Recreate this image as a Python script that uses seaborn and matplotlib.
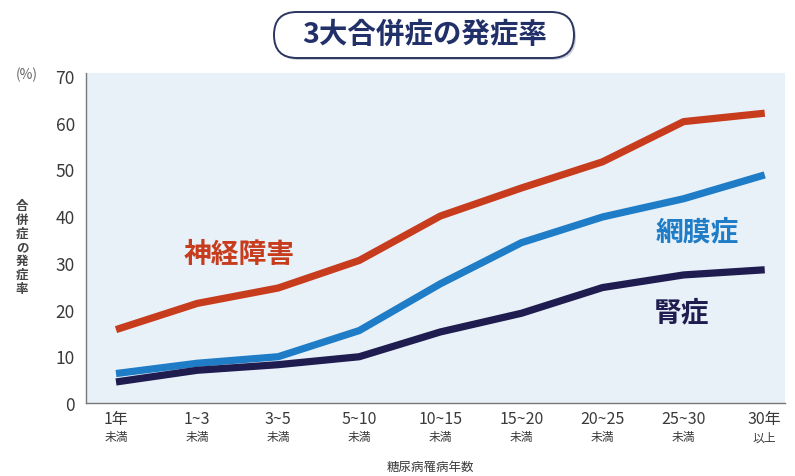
import matplotlib
matplotlib.use("Agg")
import matplotlib.pyplot as plt
import seaborn as sns
import pandas as pd
from matplotlib.patches import FancyBboxPatch
import matplotlib.transforms as mtransforms

categories = ["1年", "1~3", "3~5", "5~10", "10~15", "15~20", "20~25", "25~30", "30年"]
sublabels = ["未満", "未満", "未満", "未満", "未満", "未満", "未満", "未満", "以上"]
neuro = [15.7, 21.3, 24.6, 30.5, 40.0, 46.0, 51.6, 60.2, 62.0]
retina = [6.3, 8.5, 9.9, 15.5, 25.5, 34.3, 39.8, 43.7, 48.8]
kidney = [4.5, 7.0, 8.2, 9.9, 15.2, 19.2, 24.7, 27.4, 28.5]
series_names = ["神経障害", "網膜症", "腎症"]
colors = {"神経障害": "#c83c1e", "網膜症": "#1f7cc6", "腎症": "#1f1c50"}
yticks = [0, 10, 20, 30, 40, 50, 60, 70]

sns.set_theme(style="white")
plt.rcParams['font.family'] = ['Noto Sans CJK JP', 'DejaVu Sans']

rows = []
for name, vals in zip(series_names, [neuro, retina, kidney]):
    for i, v in enumerate(vals):
        rows.append({"idx": i, "val": v, "series": name})
df = pd.DataFrame(rows)

W, H = 795, 477
fig = plt.figure(figsize=(W / 100, H / 100), dpi=100)
fig.patch.set_facecolor("white")
ax = fig.add_axes([86 / W, 1 - 404 / H, (785 - 86) / W, (404 - 74) / H])
ax.set_facecolor("#e8f1f8")

sns.lineplot(data=df, x="idx", y="val", hue="series", palette=colors,
             hue_order=series_names, linewidth=5.2, ax=ax, legend=False,
             solid_capstyle="butt")

ax.set_xlim(-0.37, 8.25)
ax.set_ylim(0, 70.6)
ax.set_yticks(yticks)
ax.set_yticklabels([str(t) for t in yticks], fontsize=12.5, color="#3a3a3a")
ax.set_xticks(range(len(categories)))
ax.set_xticklabels(categories, fontsize=11.5, color="#3a3a3a")
ax.tick_params(axis="x", length=4, width=0.8, color="#777777", direction="in", pad=5)
ax.tick_params(axis="y", length=4, width=0.8, color="#777777", direction="out", pad=4)
for s in ["top", "right"]:
    ax.spines[s].set_visible(False)
for s in ["left", "bottom"]:
    ax.spines[s].set_color("#777777")
    ax.spines[s].set_linewidth(1.0)
ax.set_xlabel("")
ax.set_ylabel("")

trans = mtransforms.blended_transform_factory(ax.transData, fig.transFigure)
for i, s in enumerate(sublabels):
    ax.text(i, 1 - 438 / H, s, transform=trans, ha="center", va="center",
            fontsize=8.5, color="#3a3a3a")

# series labels
ax.text(1.52, 31.9, "神経障害", color=colors["神経障害"], fontsize=20, fontweight="bold", ha="center", va="center")
ax.text(7.17, 36.8, "網膜症", color=colors["網膜症"], fontsize=20, fontweight="bold", ha="center", va="center")
ax.text(6.97, 19.3, "腎症", color=colors["腎症"], fontsize=20, fontweight="bold", ha="center", va="center")

# axis titles
fig.text(22 / W, 1 - 248 / H, "\n".join("合併症の発症率"), fontsize=9, fontweight="bold",
         color="#444444", ha="center", va="center", linespacing=1.08)
fig.text(27 / W, 1 - 75 / H, "(%)", fontsize=10, color="#666666", ha="center", va="center")
fig.text(430 / W, 1 - 467 / H, "糖尿病罹病年数", fontsize=9, color="#3a3a3a", ha="center", va="center")

# title box (overlay in pixel coordinates)
ov = fig.add_axes([0, 0, 1, 1], zorder=5)
ov.set_xlim(0, W)
ov.set_ylim(0, H)
ov.axis("off")
ov.patch.set_alpha(0)
shadow = FancyBboxPatch((276, H - 61), 300, 46, boxstyle="round,pad=0,rounding_size=23",
                        facecolor="#c9ced8", edgecolor="none")
ov.add_patch(shadow)
box = FancyBboxPatch((274, H - 59), 300, 46, boxstyle="round,pad=0,rounding_size=23",
                     facecolor="white", edgecolor="#2a3560", linewidth=1.4)
ov.add_patch(box)
ov.text(425, H - 35, "3大合併症の発症率", fontsize=20.5, fontweight="bold",
        color="#22306a", ha="center", va="center")

fig.savefig("out.png", dpi=100)
